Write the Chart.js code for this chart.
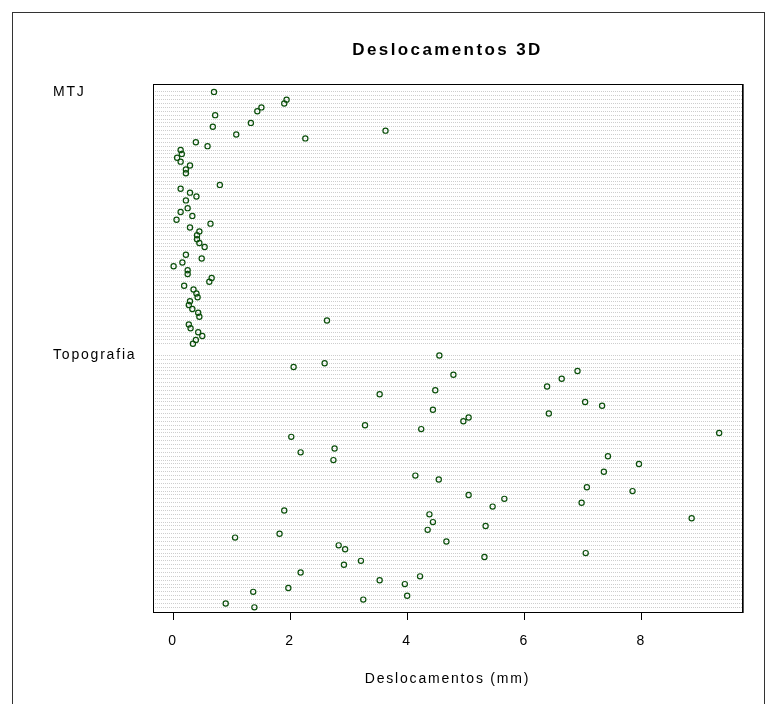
<!DOCTYPE html>
<html><head><meta charset="utf-8">
<script src="https://cdn.jsdelivr.net/npm/chart.js@4/dist/chart.umd.min.js"></script>
<style>html,body{margin:0;padding:0;background:#fff}</style>
</head><body>
<canvas id="c" width="776" height="704"></canvas>
<script>
// Group names (y-axis labels)
const groups = ["MTJ", "Topografia"];
// One value per row, top to bottom; null = empty row
const mtj = [0.70, null, 1.94, 1.90, 1.51, 1.44, 0.72, null, 1.33, 0.68,
  3.63, 1.08, 2.26, 0.39, 0.59, 0.13, 0.15, 0.07, 0.13, 0.29,
  0.22, 0.22, null, null, 0.80, 0.13, 0.29, 0.40, 0.22, null,
  0.25, 0.13, 0.33, 0.06, 0.64, 0.29, 0.45, 0.41, 0.41, 0.45,
  0.54, null, 0.22, 0.49, 0.16, 0.01, 0.25, 0.25, 0.66, 0.62,
  0.19, 0.35, 0.40, 0.42, 0.29, 0.27, 0.33, 0.43, 0.45, 2.63,
  0.27, 0.30, 0.43, 0.50, 0.39, 0.34];
const topografia = [4.55, null, 2.59, 2.06, 6.91, 4.79, 6.64, null, 6.39, 4.48,
  3.53, null, 7.04, 7.33, 4.44, 6.42, 5.05, 4.96, 3.28, 4.24,
  9.33, 2.02, null, null, 2.76, 2.18, 7.43, 2.74, 7.96, null,
  7.36, 4.14, 4.54, null, 7.07, 7.85, 5.05, 5.66, 6.98, 5.46,
  1.90, 4.38, 8.86, 4.44, 5.34, 4.35, 1.82, 1.06, 4.67, 2.83,
  2.94, 7.05, 5.32, 3.21, 2.92, null, 2.18, 4.22, 3.53, 3.96,
  1.97, 1.37, 4.00, 3.25, 0.90, 1.39];
const xTicks = [0, 2, 4, 6, 8];
const gapRows = 2;

const series = [mtj, topografia];
const groupStart = [];
const gridRows = [];
let offset = 0;
series.forEach((arr) => {
  groupStart.push(offset);
  arr.forEach((_, i) => gridRows.push(offset + i));
  offset += arr.length + gapRows;
});
const lastRow = gridRows[gridRows.length - 1];

const datasets = series.map((arr, g) => ({
  label: groups[g],
  data: arr.map((v, i) => v == null ? null : { x: v, y: groupStart[g] + i }).filter(Boolean),
  pointStyle: 'circle',
  pointRadius: 2.6,
  pointBorderWidth: 1.2,
  pointBorderColor: '#0b4f0b',
  pointBackgroundColor: 'rgba(255,255,255,0)',
  showLine: false
}));

Chart.defaults.font.family = "'Liberation Sans', Arial, sans-serif";
Chart.defaults.color = '#000';

// the reference text is horizontally wide: widen it a little with letter spacing
const textSpacingPlugin = {
  id: 'textSpacing',
  beforeDraw(chart) { chart.ctx.letterSpacing = '2.4px'; },      // title
  beforeDatasetsDraw(chart) { chart.ctx.letterSpacing = '0px'; },
  afterDatasetsDraw(chart) { chart.ctx.letterSpacing = '1.8px'; }, // axis text (z = 1)
  afterDraw(chart) { chart.ctx.letterSpacing = '0px'; }
};

const framePlugin = {
  id: 'frame',
  afterDraw(chart) {
    const { ctx, chartArea: a } = chart;
    ctx.save();
    ctx.strokeStyle = '#000';
    ctx.lineWidth = 1;
    ctx.strokeRect(Math.round(a.left) + 0.5, Math.round(a.top) + 0.5,
      Math.round(a.right - a.left), Math.round(a.bottom - a.top));
    ctx.strokeStyle = '#555';
    ctx.beginPath();
    ctx.moveTo(Math.round(a.right) + 1.5, Math.round(a.top));
    ctx.lineTo(Math.round(a.right) + 1.5, Math.round(a.bottom) + 1);
    ctx.stroke();
    ctx.strokeStyle = '#333';
    ctx.strokeRect(12.5, 12.5, 752, 700);
    ctx.restore();
  }
};

new Chart(document.getElementById('c'), {
  type: 'scatter',
  data: { datasets },
  plugins: [textSpacingPlugin, framePlugin],
  options: {
    responsive: false,
    devicePixelRatio: 1,
    animation: false,
    events: [],
    layout: { padding: { left: 53, right: 34, top: 0, bottom: 0 } },
    plugins: {
      legend: { display: false },
      tooltip: { enabled: false },
      title: {
        display: true,
        text: 'Deslocamentos 3D',
        fullSize: false,
        color: '#000',
        font: { size: 17, weight: 'bold' },
        padding: { top: 39.8, bottom: 23.8 }
      }
    },
    scales: {
      x: {
        type: 'linear',
        min: -0.342,
        max: 9.72,
        afterBuildTicks: (s) => { s.ticks = xTicks.map(v => ({ value: v })); },
        afterFit: (s) => { s.height = 92; },
        grid: { z: 1, drawOnChartArea: false, drawTicks: true, tickLength: 8, tickColor: '#000', tickWidth: 1 },
        border: { display: false },
        ticks: { z: 1, font: { size: 14 }, color: '#000', padding: 12.6, autoSkip: false, maxRotation: 0 },
        title: { display: true, text: 'Deslocamentos (mm)', font: { size: 14 }, color: '#000', padding: { top: 0, bottom: 16.6 } }
      },
      y: {
        type: 'linear',
        reverse: true,
        min: -2.04,
        max: lastRow + 1.2,
        afterBuildTicks: (s) => { s.ticks = gridRows.map(v => ({ value: v })); },
        afterFit: (s) => { s.width = 100; },
        grid: { drawTicks: false, color: '#cecece', lineWidth: 1 },
        border: { display: false, dash: [1, 1] },
        ticks: {
          z: 1,
          autoSkip: false,
          crossAlign: 'far',
          padding: 0,
          font: { size: 14 },
          color: '#000',
          callback: (v) => { const g = groupStart.indexOf(v); return g >= 0 ? groups[g] : ''; }
        }
      }
    }
  }
});
</script>
</body></html>
